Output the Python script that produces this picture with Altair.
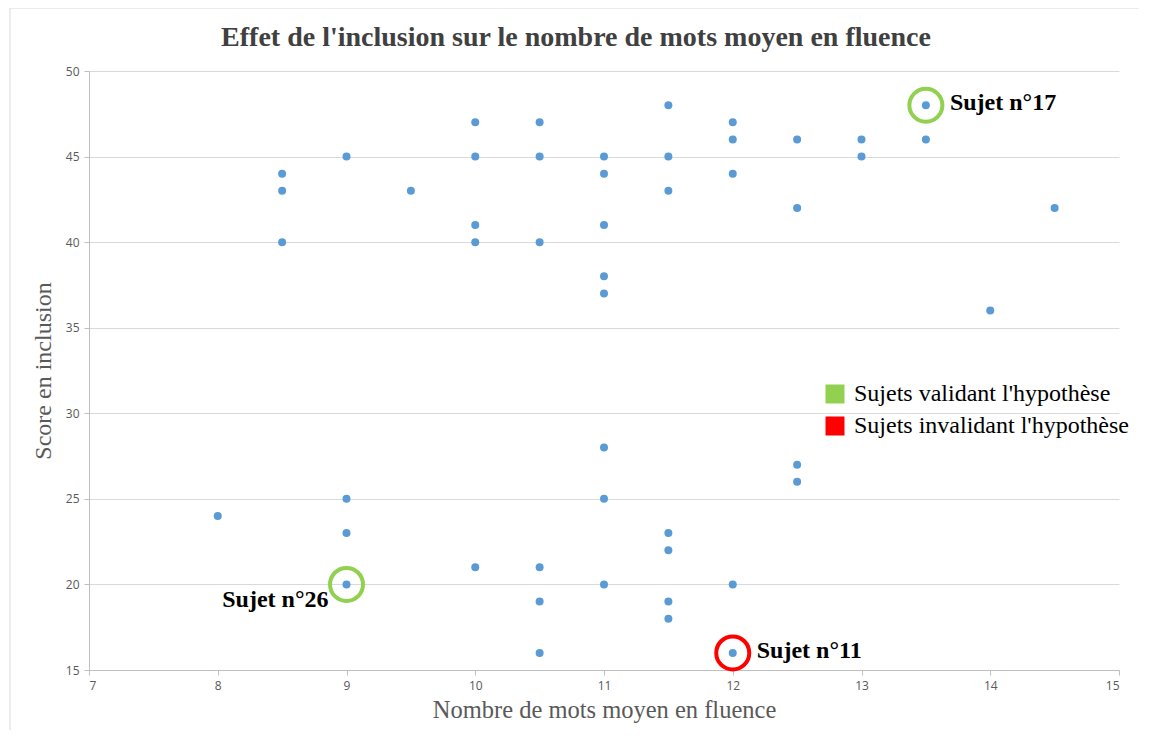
import altair as alt
import pandas as pd

# --- data ---
fluence = [8,
           8.5, 8.5, 8.5,
           9, 9, 9, 9,
           9.5,
           10, 10, 10, 10, 10,
           10.5, 10.5, 10.5, 10.5, 10.5, 10.5,
           11, 11, 11, 11, 11, 11, 11, 11,
           11.5, 11.5, 11.5, 11.5, 11.5, 11.5, 11.5,
           12, 12, 12, 12, 12,
           12.5, 12.5, 12.5, 12.5,
           13, 13,
           13.5, 13.5,
           14,
           14.5]
inclusion = [24,
             44, 43, 40,
             45, 25, 23, 20,
             43,
             47, 45, 41, 40, 21,
             47, 45, 40, 21, 19, 16,
             45, 44, 41, 38, 37, 28, 25, 20,
             48, 45, 43, 23, 22, 19, 18,
             47, 46, 44, 20, 16,
             46, 42, 27, 26,
             46, 45,
             48, 46,
             36,
             42]

sujet_noms = ["Sujet n°17", "Sujet n°26", "Sujet n°11"]
sujet_x = [13.5, 9, 12]
sujet_y = [48, 20, 16]
sujet_statut = ["Sujets validant l'hypothèse", "Sujets validant l'hypothèse",
                "Sujets invalidant l'hypothèse"]
statuts = ["Sujets validant l'hypothèse", "Sujets invalidant l'hypothèse"]
statut_couleurs = ["#92d050", "#ff0000"]

x_ticks = [7, 8, 9, 10, 11, 12, 13, 14, 15]
y_ticks = [15, 20, 25, 30, 35, 40, 45, 50]

points = pd.DataFrame({"fluence": fluence, "inclusion": inclusion})
sujets = pd.DataFrame({"nom": sujet_noms, "fluence": sujet_x,
                       "inclusion": sujet_y, "statut": sujet_statut})

W, H = 1030, 599

xs = alt.Scale(domain=[7, 15], nice=False, zero=False)
ys = alt.Scale(domain=[15, 50], nice=False, zero=False)
cs = alt.Scale(domain=statuts, range=statut_couleurs)

x_axis = alt.Axis(values=x_ticks, format="d", grid=False, title="Nombre de mots moyen en fluence",
                  domainColor="#bfbfbf", tickColor="#bfbfbf", tickSize=5,
                  labelColor="#595959", labelFont="Open Sans", labelFontSize=12,
                  labelPadding=5, titleFont="Liberation Serif", titleFontSize=24.5,
                  titleFontWeight="normal", titleColor="#595959", titlePadding=7)
y_axis = alt.Axis(values=y_ticks, format="d", grid=True, gridColor="#d9d9d9",
                  title="Score en inclusion",
                  domainColor="#bfbfbf", tickColor="#bfbfbf", tickSize=5,
                  labelColor="#595959", labelFont="Open Sans", labelFontSize=12,
                  labelPadding=5, titleFont="Liberation Serif", titleFontSize=24,
                  titleFontWeight="normal", titleColor="#595959", titlePadding=10)

legende = alt.Legend(title=None, orient="none", legendX=734, legendY=311,
                     symbolType="square", symbolSize=361,
                     symbolStrokeWidth=0, symbolOpacity=1, padding=0,
                     rowPadding=8, labelFont="Liberation Serif",
                     labelFontSize=24, labelColor="#000000",
                     labelOffset=7, labelLimit=400)

frame = alt.Chart(pd.DataFrame({"a": [0]})).mark_rect(
    fill=None, stroke="#d9d9d9", strokeWidth=1
).encode(x=alt.value(-79), x2=alt.value(1054), y=alt.value(-63), y2=alt.value(720))

dots = alt.Chart(points).mark_circle(size=64, color="#5b9bd5", opacity=1).encode(
    x=alt.X("fluence:Q", scale=xs, axis=x_axis),
    y=alt.Y("inclusion:Q", scale=ys, axis=y_axis),
)

rings = alt.Chart(sujets).mark_point(
    filled=False, shape="circle", size=1089, strokeWidth=4, opacity=1
).encode(
    x=alt.X("fluence:Q", scale=xs),
    y=alt.Y("inclusion:Q", scale=ys),
    stroke=alt.Stroke("statut:N", scale=cs, legend=legende),
)

legend_layer = alt.Chart(sujets).mark_square(size=0, opacity=1).encode(
    x=alt.X("fluence:Q", scale=xs),
    y=alt.Y("inclusion:Q", scale=ys),
    fill=alt.Fill("statut:N", scale=cs, legend=legende),
)

lab_right = alt.Chart(sujets).transform_filter(
    alt.datum.nom != "Sujet n°26"
).mark_text(align="left", baseline="middle", dx=24, dy=-2,
            font="Liberation Serif", fontSize=24, fontWeight="bold", color="#000000").encode(
    x=alt.X("fluence:Q", scale=xs),
    y=alt.Y("inclusion:Q", scale=ys),
    text="nom:N",
)

lab_left = alt.Chart(sujets).transform_filter(
    alt.datum.nom == "Sujet n°26"
).mark_text(align="right", baseline="middle", dx=-18, dy=16,
            font="Liberation Serif", fontSize=24, fontWeight="bold", color="#000000").encode(
    x=alt.X("fluence:Q", scale=xs),
    y=alt.Y("inclusion:Q", scale=ys),
    text="nom:N",
)

chart = alt.layer(frame, dots, rings, legend_layer, lab_right, lab_left).properties(
    width=W, height=H,
    title=alt.TitleParams("Effet de l'inclusion sur le nombre de mots moyen en fluence",
                          font="Liberation Serif", fontSize=28, fontWeight="bold",
                          color="#404040", anchor="middle", dx=-28, dy=62, offset=18),
    autosize=alt.AutoSizeParams(type="none"),
    padding={"left": 81, "top": 63, "right": 20, "bottom": 60},
    background="white",
).configure_view(stroke=None)

chart.save("out.html", embed_options={"renderer": "svg", "actions": False})
